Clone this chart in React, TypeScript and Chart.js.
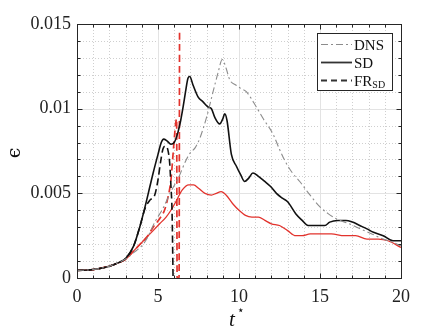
import React, { useEffect, useRef } from "react";
import { Chart, registerables } from "chart.js";

Chart.register(...registerables);

// ---- data ----
const dnsT = [0, 1, 2, 2.5, 3, 3.5, 4, 4.3, 4.8, 5.3, 5.8, 6.3, 6.7, 7.0, 7.3, 7.6, 8.0, 8.4, 8.7, 8.97, 9.2, 9.43, 9.8, 10.1, 10.45, 11.07, 11.5, 12.1, 12.5, 12.9, 13.3, 13.75, 14.3, 15, 15.5, 16, 16.8, 17.5, 18.2, 18.9, 19.5, 20];
const dnsE = [0.00045, 0.0005, 0.0007, 0.00088, 0.00112, 0.0015, 0.0019, 0.0023, 0.0033, 0.0041, 0.0051, 0.006, 0.0069, 0.0074, 0.0077, 0.0083, 0.0095, 0.011, 0.0121, 0.0129, 0.0124, 0.0117, 0.0114, 0.0112, 0.011, 0.0101, 0.0094, 0.0085, 0.0076, 0.0068, 0.0062, 0.0057, 0.005, 0.0042, 0.0038, 0.0035, 0.0032, 0.0029, 0.0026, 0.0023, 0.0021, 0.0019];

const sdT = [0, 1, 2, 2.5, 3, 3.5, 3.9, 4.2, 4.5, 4.7, 5.0, 5.2, 5.35, 5.55, 5.8, 6.0, 6.23, 6.4, 6.55, 6.7, 6.85, 6.96, 7.16, 7.47, 7.78, 8.09, 8.3, 8.5, 8.81, 9.0, 9.12, 9.26, 9.53, 9.84, 10.1, 10.35, 10.6, 10.86, 11.2, 11.59, 11.95, 12.31, 12.7, 13.0, 13.5, 13.9, 14.26, 14.6, 15.0, 15.3, 15.6, 16.1, 16.6, 17.0, 17.45, 17.9, 18.3, 18.9, 19.5, 20];
const sdE = [0.00045, 0.0005, 0.0007, 0.00088, 0.00115, 0.0019, 0.0031, 0.0042, 0.0054, 0.0062, 0.0073, 0.008, 0.0082, 0.0081, 0.0079, 0.008, 0.0086, 0.0093, 0.0101, 0.011, 0.0118, 0.0119, 0.0114, 0.0107, 0.0104, 0.0101, 0.01, 0.0095, 0.0091, 0.0094, 0.0097, 0.0093, 0.0073, 0.0066, 0.0061, 0.0057, 0.0059, 0.0062, 0.006, 0.0057, 0.0054, 0.005, 0.0047, 0.0045, 0.0038, 0.0034, 0.0031, 0.0031, 0.0031, 0.0031, 0.0033, 0.0034, 0.0034, 0.0033, 0.0031, 0.0029, 0.0027, 0.0025, 0.0022, 0.0022];

const frT = [0, 1, 2, 2.5, 3, 3.5, 3.9, 4.2, 4.5, 4.8, 5.0, 5.15, 5.3, 5.45, 5.6, 5.72, 5.8, 5.87, 5.93];
const frE = [0.00045, 0.0005, 0.0007, 0.00088, 0.00115, 0.0019, 0.0031, 0.0041, 0.0046, 0.0049, 0.0058, 0.0068, 0.0076, 0.0078, 0.0076, 0.0068, 0.0054, 0.0038, 0];

const sdRedT = [0, 1, 2, 2.5, 3, 3.5, 4, 4.4, 4.7, 5.1, 5.5, 5.8, 6.1, 6.5, 6.9, 7.2, 7.5, 7.9, 8.3, 8.6, 8.9, 9.2, 9.6, 10.0, 10.4, 10.8, 11.2, 11.6, 12.0, 12.5, 13.0, 13.5, 13.9, 14.4, 15.0, 15.7, 16.5, 17.2, 17.9, 18.6, 19.2, 20];
const sdRedE = [0.00045, 0.0005, 0.0007, 0.00087, 0.0011, 0.0016, 0.0021, 0.0025, 0.0028, 0.0032, 0.0036, 0.004, 0.0045, 0.0052, 0.0055, 0.0055, 0.0053, 0.005, 0.0049, 0.005, 0.0051, 0.0049, 0.0044, 0.004, 0.0037, 0.0036, 0.0036, 0.0034, 0.0032, 0.0031, 0.0028, 0.0025, 0.0025, 0.0026, 0.0026, 0.0026, 0.0025, 0.0025, 0.0023, 0.0023, 0.0022, 0.0018];

const frRedT = [0, 1, 2, 2.5, 3, 3.5, 4, 4.3, 4.7, 5.1, 5.4, 5.6, 5.8, 5.92, 6.02, 6.1, 6.15, 6.18, 6.3, 6.33];
const frRedE = [0.00045, 0.0005, 0.0007, 0.00087, 0.0011, 0.0016, 0.0021, 0.0024, 0.003, 0.0035, 0.004, 0.0047, 0.0058, 0.0072, 0.0084, 0.0092, 0.0094, 0, 0, 0.0147];

const xTickLabels = ["0", "5", "10", "15", "20"];
const yTickLabels = ["0", "0.005", "0.01", "0.015"];
const legendLabels = ["DNS", "SD", "FR"];
const legendSub = "SD";

const FONT = "'Liberation Serif', 'DejaVu Serif', serif";
const AXIS = "#262626";
const RED = "#e2332d";

const pts = (t: number[], e: number[]) => t.map((x, i) => ({ x, y: e[i] }));

const framePlugin = {
  id: "frame",
  beforeDatasetsDraw(chart: any) {
    const { ctx, chartArea: a, scales } = chart;
    const xs = scales.x, ys = scales.y;
    ctx.save();
    ctx.lineWidth = 1;
    ctx.strokeStyle = "#cfcfcf";
    ctx.setLineDash([1, 2]);
    for (let i = 1; i < 20; i++) {
      if (i % 5 === 0) continue;
      const px = Math.round(xs.getPixelForValue(i)) + 0.5;
      ctx.beginPath(); ctx.moveTo(px, a.top); ctx.lineTo(px, a.bottom); ctx.stroke();
    }
    for (let j = 1; j < 15; j++) {
      if (j % 5 === 0) continue;
      const py = Math.round(ys.getPixelForValue(j * 0.001)) + 0.5;
      ctx.beginPath(); ctx.moveTo(a.left, py); ctx.lineTo(a.right, py); ctx.stroke();
    }
    ctx.setLineDash([]);
    ctx.strokeStyle = "#e3e3e3";
    for (let i = 5; i < 20; i += 5) {
      const px = Math.round(xs.getPixelForValue(i)) + 0.5;
      ctx.beginPath(); ctx.moveTo(px, a.top); ctx.lineTo(px, a.bottom); ctx.stroke();
    }
    for (let j = 5; j < 15; j += 5) {
      const py = Math.round(ys.getPixelForValue(j * 0.001)) + 0.5;
      ctx.beginPath(); ctx.moveTo(a.left, py); ctx.lineTo(a.right, py); ctx.stroke();
    }
    ctx.restore();
  },
  afterDatasetsDraw(chart: any) {
    const { ctx, chartArea: a, scales } = chart;
    const xs = scales.x, ys = scales.y;
    ctx.save();
    ctx.lineWidth = 1;
    ctx.strokeStyle = AXIS;
    ctx.setLineDash([]);
    const L = Math.round(a.left) + 0.5, R = Math.round(a.right) + 0.5;
    const T = Math.round(a.top) + 0.5, B = Math.round(a.bottom) + 0.5;
    for (let i = 1; i < 20; i++) {
      const len = i % 5 === 0 ? 5 : 3;
      const px = Math.round(xs.getPixelForValue(i)) + 0.5;
      ctx.beginPath();
      ctx.moveTo(px, B); ctx.lineTo(px, B - len);
      ctx.moveTo(px, T); ctx.lineTo(px, T + len);
      ctx.stroke();
    }
    for (let j = 1; j < 15; j++) {
      const len = j % 5 === 0 ? 5 : 3;
      const py = Math.round(ys.getPixelForValue(j * 0.001)) + 0.5;
      ctx.beginPath();
      ctx.moveTo(L, py); ctx.lineTo(L + len, py);
      ctx.moveTo(R, py); ctx.lineTo(R - len, py);
      ctx.stroke();
    }
    ctx.strokeRect(L, T, R - L, B - T);

    // legend
    const lx = 317.5, ly = 33.5, lw = 75, lh = 57;
    ctx.fillStyle = "#ffffff";
    ctx.fillRect(lx, ly, lw, lh);
    ctx.strokeStyle = AXIS;
    ctx.strokeRect(lx, ly, lw, lh);
    const rows = [44, 62, 80];
    const styles = [
      { c: "#8c8c8c", w: 1.2, d: [7, 3, 2, 3] },
      { c: "#333333", w: 1.8, d: [] as number[] },
      { c: "#333333", w: 1.8, d: [6, 4] },
    ];
    rows.forEach((ry, k) => {
      const s = styles[k];
      ctx.strokeStyle = s.c; ctx.lineWidth = s.w; ctx.setLineDash(s.d);
      ctx.beginPath(); ctx.moveTo(321, ry + 0.5); ctx.lineTo(352, ry + 0.5); ctx.stroke();
    });
    ctx.setLineDash([]);
    ctx.fillStyle = "#111111";
    ctx.textBaseline = "alphabetic";
    ctx.textAlign = "left";
    ctx.font = `15px ${FONT}`;
    rows.forEach((ry, k) => {
      ctx.fillText(legendLabels[k], 354, ry + 5.5);
    });
    const frW = ctx.measureText(legendLabels[2]).width;
    ctx.font = `10px ${FONT}`;
    ctx.fillText(legendSub, 354 + frW, rows[2] + 8);

    // axis titles
    ctx.fillStyle = "#111111";
    ctx.font = `italic 21px ${FONT}`;
    ctx.textAlign = "left";
    ctx.fillText("t", 229, 326);
    ctx.font = `12px 'DejaVu Serif', serif`;
    ctx.fillText("\u22C6", 237, 314);

    ctx.save();
    ctx.translate(20, 153);
    ctx.rotate(-Math.PI / 2);
    ctx.textAlign = "center";
    ctx.font = `19px 'DejaVu Serif', serif`;
    ctx.fillText("\u03F5", 0, 0);
    ctx.restore();

    ctx.restore();
  },
};

export default function App() {
  const ref = useRef<HTMLCanvasElement | null>(null);
  useEffect(() => {
    document.body.style.margin = "0";
    Chart.defaults.font.family = FONT;
    const canvas = ref.current!;
    const chart = new Chart(canvas, {
      type: "line",
      data: {
        datasets: [
          { label: "DNS", data: pts(dnsT, dnsE), borderColor: "#8c8c8c", borderWidth: 1.1, borderDash: [7, 3, 2, 3] },
          { label: "SD", data: pts(sdT, sdE), borderColor: "#111111", borderWidth: 1.6 },
          { label: "FR_SD", data: pts(frT, frE), borderColor: "#111111", borderWidth: 1.6, borderDash: [7, 4] },
          { label: "SD red", data: pts(sdRedT, sdRedE), borderColor: RED, borderWidth: 1.3 },
          { label: "FR red", data: pts(frRedT, frRedE), borderColor: RED, borderWidth: 1.7, borderDash: [7, 4] },
        ].map((d: any) => ({ ...d, pointRadius: 0, fill: false, cubicInterpolationMode: "monotone" })),
      },
      options: {
        animation: false,
        responsive: false,
        layout: { padding: { top: 24, right: 42, left: 0, bottom: 0 } },
        plugins: { legend: { display: false }, tooltip: { enabled: false } },
        scales: {
          x: {
            type: "linear",
            min: 0,
            max: 20,
            grid: { display: false, drawTicks: false },
            border: { display: false },
            ticks: {
              stepSize: 5,
              padding: 8,
              color: "#222222",
              font: { family: FONT, size: 18 },
              maxRotation: 0,
              callback: (_v: any, i: number) => xTickLabels[i],
            },
            afterFit: (s: any) => { s.height = 55; },
          },
          y: {
            type: "linear",
            min: 0,
            max: 0.015,
            grid: { display: false, drawTicks: false },
            border: { display: false },
            ticks: {
              stepSize: 0.005,
              padding: 6,
              color: "#222222",
              font: { family: FONT, size: 18 },
              callback: (_v: any, i: number) => yTickLabels[i],
            },
            afterFit: (s: any) => { s.width = 77; },
          },
        },
      },
      plugins: [framePlugin],
    });
    return () => chart.destroy();
  }, []);
  return (
    <div style={{ width: 443, height: 333, background: "#fff" }}>
      <canvas ref={ref} width={443} height={333} style={{ display: "block" }} />
    </div>
  );
}
